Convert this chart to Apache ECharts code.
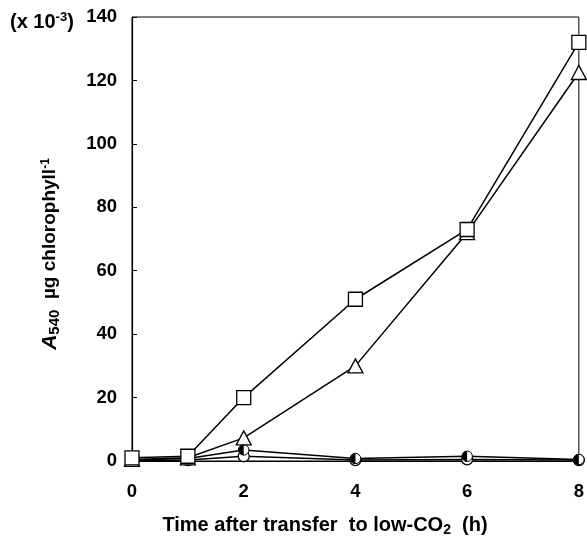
<!DOCTYPE html>
<html><head><meta charset="utf-8">
<script src="https://cdn.jsdelivr.net/npm/echarts@6/dist/echarts.min.js"></script>
<style>html,body{margin:0;padding:0;background:#fff}#c{width:587px;height:536px}</style>
</head><body><div id="c"></div>
<script>
var hours = [0, 1, 2, 4, 6, 8];
var squareSeries = [1, 1.5, 20, 51, 73, 132];
var triangleSeries = [0.5, 1, 7.3, 30, 72, 122.5];
var halfCircleSeries = [0.3, 0.8, 3.5, 0.8, 1.5, 0.5];
var openCircleSeries = [0, 0.3, 1.5, 0.3, 0.5, 0.3];
var xTicks = [0, 2, 4, 6, 8];
var yTicks = [0, 20, 40, 60, 80, 100, 120, 140];

function pairs(vals){ return hours.map(function(h,i){ return [h, vals[i]]; }); }
var halfSvg = 'image://data:image/svg+xml;utf8,' + encodeURIComponent(
 '<svg xmlns="http://www.w3.org/2000/svg" width="24" height="24" viewBox="0 0 24 24">' +
 '<circle cx="12" cy="12" r="10.5" fill="#fff" stroke="#000" stroke-width="2"/>' +
 '<path d="M12 1.5 A10.5 10.5 0 0 0 12 22.5 Z" fill="#000"/></svg>');

var FONT = '"Liberation Sans", Arial, sans-serif';
var chart = echarts.init(document.getElementById('c'));
var lineBase = { type: 'line', lineStyle: { color: '#000', width: 1.5 }, itemStyle: { color: '#fff', borderColor: '#000', borderWidth: 1.3 }, z: 3 };
chart.setOption({
  animation: false,
  backgroundColor: '#fff',
  grid: { left: 132, right: 8, top: 17, bottom: 75, show: true, borderColor: '#000', borderWidth: 1 },
  xAxis: {
    type: 'value', min: 0, max: 8, interval: 2,
    axisLine: { lineStyle: { color: '#000', width: 1.2 } },
    axisTick: { inside: true, length: 4, lineStyle: { color: '#000' } },
    splitLine: { show: false },
    axisLabel: { color: '#000', fontFamily: FONT, fontWeight: 'bold', fontSize: 18.5, margin: 21,
      formatter: function(v){ return xTicks.indexOf(v) >= 0 ? String(v) : ''; } }
  },
  yAxis: {
    type: 'value', min: 0, max: 140, interval: 20,
    axisLine: { lineStyle: { color: '#000', width: 1.2 } },
    axisTick: { inside: true, length: 5, lineStyle: { color: '#000' } },
    splitLine: { show: false },
    axisLabel: { color: '#000', fontFamily: FONT, fontWeight: 'bold', fontSize: 18.5, margin: 15,
      formatter: function(v){ return yTicks.indexOf(v) >= 0 ? String(v) : ''; } }
  },
  graphic: [
    { type: 'text', x: 10, y: 22, style: {
      verticalAlign: 'middle',
      rich: { n: { fontFamily: FONT, fontWeight: 'bold', fontSize: 20, fill: '#000' },
              s: { fontFamily: FONT, fontWeight: 'bold', fontSize: 13, fill: '#000', padding: [0,0,9,0] } },
      text: '{n|(x 10}{s|-3}{n|)}' } },
    { type: 'text', x: 325, y: 525, style: {
      align: 'center', verticalAlign: 'middle',
      rich: { n: { fontFamily: FONT, fontWeight: 'bold', fontSize: 20, fill: '#000' },
              b: { fontFamily: FONT, fontWeight: 'bold', fontSize: 14, fill: '#000', padding: [10,0,0,0] } },
      text: '{n|Time after transfer  to low-CO}{b|2}{n|  (h)}' } },
    { type: 'text', x: 50, y: 254, rotation: Math.PI / 2, style: {
      align: 'center', verticalAlign: 'middle',
      rich: { a: { fontFamily: FONT, fontWeight: 'bold', fontStyle: 'italic', fontSize: 21, fill: '#000' },
              sub: { fontFamily: FONT, fontWeight: 'bold', fontSize: 15, fill: '#000', padding: [9,0,0,0] },
              n: { fontFamily: FONT, fontWeight: 'bold', fontSize: 19, fill: '#000' },
              sup: { fontFamily: FONT, fontWeight: 'bold', fontSize: 12, fill: '#000', padding: [0,0,9,0] } },
      text: '{a|A}{sub|540}{n|  \u00b5g chlorophyll}{sup|-1}' } }
  ],
  series: [
    Object.assign({}, lineBase, { name: 'open circle', data: pairs(openCircleSeries), symbol: 'circle', symbolSize: 11 }),
    Object.assign({}, lineBase, { name: 'half circle', data: pairs(halfCircleSeries), symbol: halfSvg, symbolSize: 12 }),
    Object.assign({}, lineBase, { name: 'triangle', data: pairs(triangleSeries), symbol: 'triangle', symbolSize: [15, 14] }),
    Object.assign({}, lineBase, { name: 'square', data: pairs(squareSeries), symbol: 'rect', symbolSize: 14 })
  ]
});
</script></body></html>
